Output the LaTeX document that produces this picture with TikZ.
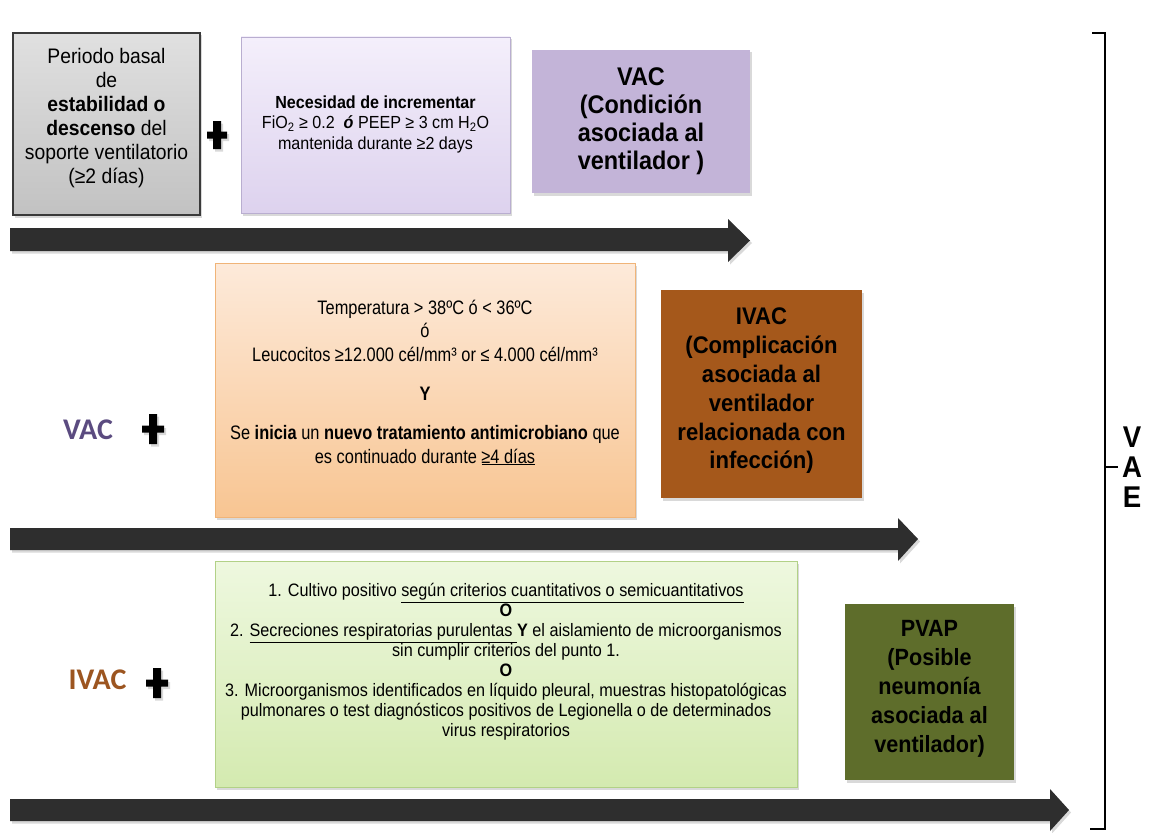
\documentclass[tikz,border=0pt]{standalone}
\usepackage{fontspec}
\setmainfont{Liberation Sans}[FakeStretch=0.92]
\newfontfamily\orfont{Liberation Sans}[FakeStretch=0.84]
\newfontfamily\grfont{Liberation Sans}[FakeStretch=0.9]
\newfontfamily\calfont{Carlito}
\usetikzlibrary{shadows}
\definecolor{arrowc}{HTML}{2E2E2E}
\definecolor{graytop}{HTML}{E0E0E0}
\definecolor{graybot}{HTML}{C2C2C2}
\definecolor{grayline}{HTML}{3A3A3A}
\definecolor{lavtop}{HTML}{F4EFFB}
\definecolor{lavbot}{HTML}{DDD2EE}
\definecolor{lavline}{HTML}{B9AED0}
\definecolor{vacfill}{HTML}{C3B4D8}
\definecolor{ortop}{HTML}{FDEADA}
\definecolor{orbot}{HTML}{F8C592}
\definecolor{orline}{HTML}{F0B478}
\definecolor{ivacfill}{HTML}{A5581B}
\definecolor{grtop}{HTML}{EEF8DF}
\definecolor{grbot}{HTML}{D4EAB0}
\definecolor{grline}{HTML}{B2D187}
\definecolor{pvapfill}{HTML}{5E6D2B}
\definecolor{vaclab}{HTML}{5B4B80}
\definecolor{ivaclab}{HTML}{9C5520}
\begin{document}
\begin{tikzpicture}[x=1pt,y=-1pt,
  shad/.style={drop shadow={shadow xshift=2pt,shadow yshift=-2.5pt,opacity=0.3}},
  box/.style={rectangle,inner sep=0pt,shad},
  txt/.style={align=center,inner sep=0pt,text=black},
  arr/.style={fill=arrowc,shad},
  plusc/.style={fill=black,shad,nonzero rule},
  boldbox/.style={txt,font=\fontsize{24}{28.8}\selectfont\bfseries}]
\useasboundingbox (0,0) rectangle (1155,832);

% Row 1
\node[box,draw=grayline,line width=1.5pt,top color=graytop,bottom color=graybot,
  minimum width=187,minimum height=182] (b1) at (106.5,124) {};
\node[txt,font=\fontsize{21}{24}\selectfont] (t1) at (106.5,118)
  {Periodo basal\\de\\\textbf{estabilidad o}\\\textbf{descenso} del\\soporte ventilatorio\\(≥2 días)};
\fill[plusc] (213,121) rectangle (221,149) (207,131.5) rectangle (227,138.5);

\node[box,draw=lavline,line width=0.8pt,top color=lavtop,bottom color=lavbot,
  minimum width=269,minimum height=176] (b2) at (375.5,125) {};
\node[txt,font=\fontsize{17.5}{20.5}\selectfont] (t2) at (375.5,124)
  {\textbf{Necesidad de incrementar}\\
   FiO\textsubscript{2} ≥ 0.2 \ \textbf{\textit{ó}} PEEP ≥ 3 cm H\textsubscript{2}O\\
   mantenida durante ≥2 days};

\node[box,fill=vacfill,minimum width=218,minimum height=143] (b3) at (641,121.5) {};
\node[txt,font=\fontsize{25.5}{28}\selectfont\bfseries] (t3) at (641,121.5)
  {VAC\\(Condición\\asociada al\\ventilador )};

\fill[arr] (10,228) -- (728,228) -- (728,219) -- (750,240.5) -- (728,262) -- (728,251) -- (10,251) -- cycle;

% Row 2
\node[txt,font=\fontsize{30}{30}\calfont\bfseries,text=vaclab] (l2) at (88,430) {VAC};
\fill[plusc] (149,414) rectangle (157,444) (142,425.5) rectangle (164,432.5);

\node[box,draw=orline,line width=0.8pt,top color=ortop,bottom color=orbot,
  minimum width=420,minimum height=254] (b4) at (425,390) {};
\node[txt,font=\fontsize{19.5}{23.5}\orfont] (t4) at (425,382.5)
  {Temperatura > 38ºC ó < 36ºC\\
   ó\\
   Leucocitos ≥12.000 cél/mm³ or ≤ 4.000 cél/mm³\\[15.5pt]
   \textbf{Y}\\[16pt]
   Se \textbf{inicia} un \textbf{nuevo tratamiento antimicrobiano} que\\
   es continuado durante \underline{≥4 días}};

\node[box,fill=ivacfill,minimum width=201,minimum height=208] (b5) at (761.5,394) {};
\node[boldbox] (t5) at (761.5,391)
  {IVAC\\(Complicación\\asociada al\\ventilador\\relacionada con\\infección)};

\fill[arr] (10,528) -- (898,528) -- (898,518) -- (918,539) -- (898,561) -- (898,550) -- (10,550) -- cycle;

% Row 3
\node[txt,font=\fontsize{30}{30}\calfont\bfseries,text=ivaclab] (l3) at (97.5,680) {IVAC};
\fill[plusc] (153,668) rectangle (161,698) (146,679.5) rectangle (168,686.5);

\node[box,draw=grline,line width=0.8pt,top color=grtop,bottom color=grbot,
  minimum width=582,minimum height=226] (b6) at (506,674) {};
\node[txt,font=\fontsize{18}{20}\grfont] (t6) at (506,662)
  {1. Cultivo positivo \underline{según criterios cuantitativos o semicuantitativos}\\
   \textbf{O}\\
   2. \underline{Secreciones respiratorias purulentas\ }\textbf{Y} el aislamiento de microorganismos\\
   sin cumplir criterios del punto 1.\\
   \textbf{O}\\
   3. Microorganismos identificados en líquido pleural, muestras histopatológicas\\
   pulmonares o test diagnósticos positivos de Legionella o de determinados\\
   virus respiratorios};

\node[box,fill=pvapfill,minimum width=169,minimum height=176] (b7) at (929.5,692) {};
\node[txt,font=\fontsize{23.5}{29}\selectfont\bfseries] (t7) at (929.5,689)
  {PVAP\\(Posible\\neumonía\\asociada al\\ventilador)};

\fill[arr] (10,799) -- (1050,799) -- (1050,789) -- (1069,810) -- (1050,831) -- (1050,821) -- (10,821) -- cycle;

% Bracket
\coordinate (bt) at (1092,33);
\coordinate (bb) at (1090,829);
\coordinate (bm) at (1105,467);
\draw[line width=2.5pt,line join=miter] (bt) -- (1105,33) -- (1105,829) -- (bb);
\draw[line width=2.5pt] (bm) -- (1118,467);
\node[txt,font=\fontsize{30}{30}\selectfont\bfseries] (vae) at (1132,467) {V\\A\\E};
\end{tikzpicture}
\end{document}
